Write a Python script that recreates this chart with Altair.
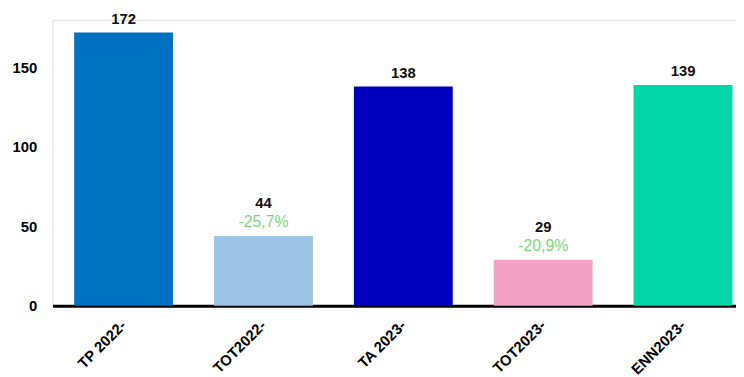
import altair as alt
import pandas as pd

categories = ["TP 2022-", "TOT2022-", "TA 2023-", "TOT2023-", "ENN2023-"]
values = [172, 44, 138, 29, 139]
pct_labels = ["", "-25,7%", "", "-20,9%", ""]
colors = ["#0070C0", "#9DC3E6", "#0000BF", "#F2A3C5", "#00D6A8"]

df = pd.DataFrame({"cat": categories, "val": values, "pct": pct_labels,
                   "has_pct": [p != "" for p in pct_labels]})

FONT = "Liberation Sans"

x = alt.X("cat:N", sort=categories, title=None,
          scale=alt.Scale(paddingInner=0.293, paddingOuter=0.09, align=0.86),
          axis=alt.Axis(labelAngle=-45, labelAlign="right", labelBaseline="top",
                        labelFontSize=15, labelFontWeight="bold", labelColor="#000000",
                        labelFont=FONT, ticks=False, domainColor="#000000",
                        domainWidth=3, labelPadding=12, labelOffset=-5))
y = alt.Y("val:Q", title=None,
          scale=alt.Scale(domain=[0, 180], nice=False),
          axis=alt.Axis(values=[0, 50, 100, 150], grid=False, domain=False, ticks=False,
                        labelFontSize=15, labelFontWeight="bold", labelColor="#000000",
                        labelFont=FONT, labelPadding=16))

bars = alt.Chart(df).mark_bar().encode(
    x=x, y=y,
    color=alt.Color("cat:N", sort=categories,
                    scale=alt.Scale(domain=categories, range=colors), legend=None),
)

val_plain = alt.Chart(df).transform_filter("!datum.has_pct").mark_text(
    fontSize=15, fontWeight="bold", font=FONT, color="#111111", dy=-9, baseline="alphabetic"
).encode(x=alt.X("cat:N", sort=categories), y="val:Q", text="val:Q")

val_pct = alt.Chart(df).transform_filter("datum.has_pct").mark_text(
    fontSize=15, fontWeight="bold", font=FONT, color="#111111", dy=-28, baseline="alphabetic"
).encode(x=alt.X("cat:N", sort=categories), y="val:Q", text="val:Q")

pct = alt.Chart(df).transform_filter("datum.has_pct").mark_text(
    fontSize=16, font=FONT, color="#7DD47D", dy=-9, baseline="alphabetic"
).encode(x=alt.X("cat:N", sort=categories), y="val:Q", text="pct:N")

chart = alt.layer(bars, val_plain, val_pct, pct).properties(
    width=691, height=289,
    autosize=alt.AutoSizeParams(type="none"),
    padding={"left": 45, "top": 10, "right": 0, "bottom": 70},
).configure_view(stroke=None).configure(background="#ffffff")

chart.save("out.html", embed_options={"renderer": "svg", "actions": False})
